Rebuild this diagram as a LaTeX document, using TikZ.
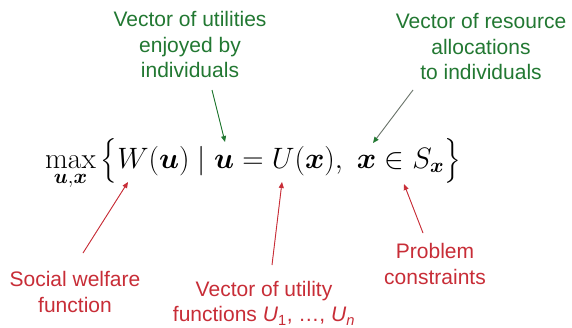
\RequirePackage{fix-cm}
\documentclass[tikz,border=0pt]{standalone}
\usepackage{amsmath,bm}
\usepackage{fontspec}
\setsansfont{Liberation Sans}
\usetikzlibrary{arrows.meta}
\definecolor{cgreen}{RGB}{34,120,50}
\definecolor{cred}{RGB}{200,45,55}
\definecolor{cgreyg}{RGB}{105,115,105}
\tikzset{
  every picture/.style={x=1pt, y=-1pt},
  note/.style={font=\sffamily\fontsize{21}{25.5}\selectfont, align=center, inner sep=0pt, anchor=north},
  arrow/.style={-{Triangle[length=6pt, width=5pt]}, line width=0.9pt},
}

\begin{document}
\begin{tikzpicture}
  \fill[white] (0,0) rectangle (572,327);
  \useasboundingbox (0,0) rectangle (572,327);
  % the problem
  \node[anchor=base west, inner sep=0pt, font=\fontsize{29.5}{35}\selectfont] (prob) at (45,168)
    {$\displaystyle\max_{\bm u,\bm x}\big\{W(\bm u)\mid \bm u=U(\bm x),\ \bm x\in S_{\bm x}\big\}$};
  % labels above
  \node[note, text=cgreen] (util) at (190,11.5) {Vector of utilities\\enjoyed by\\individuals};
  \node[note, text=cgreen] (alloc) at (481,13.5) {Vector of resource\\allocations\\to individuals};
  % labels below
  \node[note, text=cred] (welf) at (75,271.5) {Social welfare\\function};
  \node[note, text=cred] (ufun) at (264,281) {Vector of utility\\functions \textit{U}\textsubscript{1}, …, \textit{U}\textsubscript{\textit{n}}};
  \node[note, text=cred] (cons) at (435,243.5) {Problem\\constraints};
  % arrow ends
  \coordinate (util-s) at (212,90);   \coordinate (util-t) at (225,142);
  \coordinate (alloc-s) at (413,90);  \coordinate (alloc-t) at (373,143);
  \coordinate (welf-s) at (83,253);   \coordinate (welf-t) at (128,182);
  \coordinate (ufun-s) at (272,265);  \coordinate (ufun-t) at (282,182);
  \coordinate (cons-s) at (423,233);  \coordinate (cons-t) at (404,184);
  \draw[arrow, draw=cgreen, fill=cgreen] (util-s) -- (util-t);
  \draw[arrow, draw=cgreyg, -{Triangle[length=6pt, width=5pt, color=cgreen]}] (alloc-s) -- (alloc-t);
  \foreach \n in {welf, ufun, cons}
    \draw[arrow, draw=cred, fill=cred] (\n-s) -- (\n-t);
\end{tikzpicture}
\end{document}
